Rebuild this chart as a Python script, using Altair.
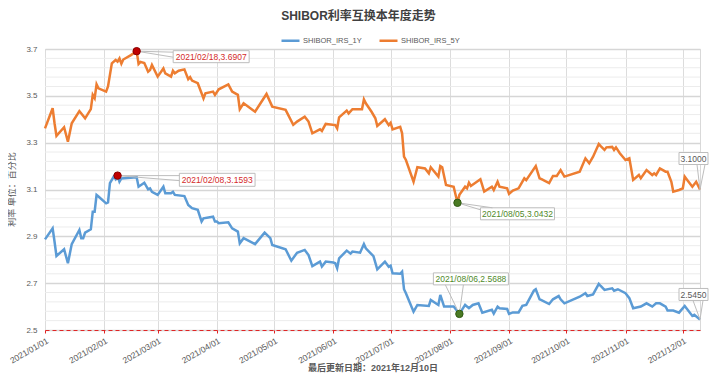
import altair as alt
import pandas as pd

FONT = "Liberation Sans, Noto Sans CJK SC, sans-serif"

# ---------------- data ----------------
dates_5y = [
    "2021-01-01", "2021-01-05", "2021-01-06", "2021-01-07", "2021-01-11", "2021-01-13", "2021-01-15",
    "2021-01-19", "2021-01-22", "2021-01-25", "2021-01-26", "2021-01-27", "2021-01-28", "2021-01-29",
    "2021-02-02", "2021-02-03", "2021-02-05", "2021-02-07", "2021-02-08", "2021-02-09", "2021-02-10",
    "2021-02-11", "2021-02-15", "2021-02-18", "2021-02-19", "2021-02-20", "2021-02-22", "2021-02-24",
    "2021-02-25", "2021-02-26", "2021-03-01", "2021-03-04", "2021-03-05", "2021-03-08", "2021-03-09",
    "2021-03-10", "2021-03-12", "2021-03-15", "2021-03-17", "2021-03-18", "2021-03-19", "2021-03-22",
    "2021-03-24", "2021-03-25", "2021-03-26", "2021-03-30", "2021-03-31", "2021-04-02", "2021-04-07",
    "2021-04-09", "2021-04-12", "2021-04-13", "2021-04-15", "2021-04-21", "2021-04-27", "2021-04-30",
    "2021-05-07", "2021-05-11", "2021-05-13", "2021-05-17", "2021-05-19", "2021-05-21", "2021-05-25",
    "2021-05-26", "2021-05-28", "2021-06-02", "2021-06-03", "2021-06-04", "2021-06-08", "2021-06-09",
    "2021-06-11", "2021-06-16", "2021-06-17", "2021-06-18", "2021-06-21", "2021-06-23", "2021-06-24",
    "2021-06-28", "2021-06-30", "2021-07-01", "2021-07-02", "2021-07-06", "2021-07-07", "2021-07-08",
    "2021-07-09", "2021-07-13", "2021-07-15", "2021-07-19", "2021-07-21", "2021-07-22", "2021-07-26",
    "2021-07-27", "2021-07-28", "2021-07-30", "2021-08-03", "2021-08-05", "2021-08-06", "2021-08-09",
    "2021-08-10", "2021-08-11", "2021-08-12", "2021-08-17", "2021-08-19", "2021-08-23", "2021-08-24",
    "2021-08-26", "2021-08-27", "2021-08-31", "2021-09-01", "2021-09-03", "2021-09-06", "2021-09-09",
    "2021-09-10", "2021-09-15", "2021-09-17", "2021-09-18", "2021-09-22", "2021-09-24", "2021-09-26",
    "2021-09-28", "2021-09-30", "2021-10-08", "2021-10-11", "2021-10-13", "2021-10-15", "2021-10-18",
    "2021-10-19", "2021-10-21", "2021-10-22", "2021-10-25", "2021-10-26", "2021-10-27", "2021-10-29",
    "2021-11-01", "2021-11-03", "2021-11-05", "2021-11-08", "2021-11-09", "2021-11-12", "2021-11-15",
    "2021-11-16", "2021-11-17", "2021-11-19", "2021-11-22", "2021-11-23", "2021-11-25", "2021-11-26",
    "2021-11-29", "2021-12-01", "2021-12-02", "2021-12-03", "2021-12-06", "2021-12-08", "2021-12-10",
]
rates_5y = [
    3.361, 3.447, 3.383, 3.329, 3.366, 3.304, 3.383,
    3.435, 3.404, 3.443, 3.504, 3.490, 3.549, 3.532,
    3.518, 3.540, 3.639, 3.653, 3.646, 3.660, 3.637,
    3.655, 3.674, 3.6907, 3.636, 3.645, 3.640, 3.603,
    3.610, 3.632, 3.582, 3.617, 3.596, 3.582, 3.607,
    3.596, 3.607, 3.613, 3.571, 3.580, 3.565, 3.554,
    3.511, 3.489, 3.511, 3.518, 3.504, 3.528, 3.549,
    3.518, 3.504, 3.443, 3.468, 3.432, 3.508, 3.454,
    3.440, 3.376, 3.390, 3.411, 3.390, 3.340, 3.357,
    3.350, 3.380, 3.375, 3.361, 3.408, 3.437, 3.425,
    3.443, 3.443, 3.485, 3.468, 3.432, 3.404, 3.371,
    3.400, 3.375, 3.385, 3.357, 3.368, 3.340, 3.240,
    3.226, 3.133, 3.195, 3.190, 3.169, 3.195, 3.155,
    3.200, 3.195, 3.119, 3.112, 3.0432, 3.077, 3.112,
    3.105, 3.129, 3.115, 3.144, 3.091, 3.112, 3.098,
    3.133, 3.112, 3.105, 3.081, 3.095, 3.105, 3.148,
    3.140, 3.200, 3.148, 3.144, 3.127, 3.158, 3.158,
    3.183, 3.155, 3.176, 3.233, 3.212, 3.240, 3.294,
    3.285, 3.269, 3.280, 3.282, 3.269, 3.280, 3.255,
    3.226, 3.233, 3.141, 3.162, 3.148, 3.183, 3.162,
    3.169, 3.162, 3.190, 3.176, 3.176, 3.133, 3.091,
    3.098, 3.105, 3.155, 3.144, 3.112, 3.133, 3.100,
]

dates_1y = [
    "2021-01-01", "2021-01-05", "2021-01-06", "2021-01-07", "2021-01-11", "2021-01-13", "2021-01-15",
    "2021-01-19", "2021-01-20", "2021-01-21", "2021-01-22", "2021-01-25", "2021-01-26", "2021-01-27",
    "2021-01-28", "2021-01-29", "2021-02-02", "2021-02-03", "2021-02-04", "2021-02-06", "2021-02-07",
    "2021-02-08", "2021-02-09", "2021-02-10", "2021-02-18", "2021-02-19", "2021-02-22", "2021-02-24",
    "2021-02-25", "2021-02-26", "2021-03-01", "2021-03-04", "2021-03-05", "2021-03-08", "2021-03-09",
    "2021-03-10", "2021-03-15", "2021-03-17", "2021-03-19", "2021-03-22", "2021-03-24", "2021-03-25",
    "2021-03-30", "2021-03-31", "2021-04-01", "2021-04-02", "2021-04-07", "2021-04-09", "2021-04-12",
    "2021-04-13", "2021-04-15", "2021-04-21", "2021-04-26", "2021-04-29", "2021-04-30", "2021-05-07",
    "2021-05-10", "2021-05-13", "2021-05-17", "2021-05-19", "2021-05-21", "2021-05-25", "2021-05-26",
    "2021-05-28", "2021-06-01", "2021-06-02", "2021-06-03", "2021-06-04", "2021-06-08", "2021-06-10",
    "2021-06-11", "2021-06-15", "2021-06-17", "2021-06-18", "2021-06-22", "2021-06-24", "2021-06-28",
    "2021-06-30", "2021-07-01", "2021-07-02", "2021-07-06", "2021-07-07", "2021-07-08", "2021-07-09",
    "2021-07-13", "2021-07-15", "2021-07-21", "2021-07-22", "2021-07-26", "2021-07-27", "2021-07-29",
    "2021-08-03", "2021-08-06", "2021-08-09", "2021-08-11", "2021-08-13", "2021-08-16", "2021-08-18",
    "2021-08-23", "2021-08-24", "2021-08-26", "2021-08-27", "2021-08-31", "2021-09-01", "2021-09-03",
    "2021-09-06", "2021-09-08", "2021-09-10", "2021-09-14", "2021-09-15", "2021-09-17", "2021-09-18",
    "2021-09-22", "2021-09-24", "2021-09-27", "2021-09-28", "2021-09-30", "2021-10-08", "2021-10-11",
    "2021-10-12", "2021-10-15", "2021-10-18", "2021-10-19", "2021-10-21", "2021-10-25", "2021-10-26",
    "2021-10-28", "2021-11-01", "2021-11-03", "2021-11-05", "2021-11-09", "2021-11-12", "2021-11-15",
    "2021-11-17", "2021-11-19", "2021-11-22", "2021-11-23", "2021-11-26", "2021-11-29", "2021-12-02",
    "2021-12-06", "2021-12-07", "2021-12-10",
]
rates_1y = [
    2.887, 2.934, 2.877, 2.816, 2.845, 2.785, 2.867,
    2.927, 2.892, 2.892, 2.916, 2.930, 3.005, 3.005,
    3.077, 3.070, 3.041, 3.045, 3.127, 3.155, 3.144,
    3.1593, 3.133, 3.147, 3.152, 3.112, 3.129, 3.101,
    3.105, 3.090, 3.077, 3.112, 3.084, 3.084, 3.090,
    3.077, 3.072, 3.034, 3.020, 3.013, 2.963, 2.977,
    2.984, 2.963, 2.963, 2.956, 2.960, 2.934, 2.920,
    2.870, 2.892, 2.867, 2.916, 2.892, 2.863, 2.845,
    2.796, 2.830, 2.842, 2.820, 2.773, 2.792, 2.771,
    2.792, 2.788, 2.785, 2.764, 2.806, 2.839, 2.826,
    2.835, 2.830, 2.867, 2.849, 2.815, 2.759, 2.792,
    2.770, 2.775, 2.742, 2.740, 2.749, 2.674, 2.657,
    2.578, 2.607, 2.603, 2.628, 2.607, 2.650, 2.600,
    2.600, 2.5688, 2.607, 2.593, 2.607, 2.614, 2.574,
    2.586, 2.570, 2.600, 2.593, 2.590, 2.569, 2.575,
    2.575, 2.603, 2.607, 2.668, 2.674, 2.631, 2.628,
    2.611, 2.631, 2.645, 2.631, 2.614, 2.642, 2.657,
    2.645, 2.652, 2.697, 2.688, 2.671, 2.678, 2.668,
    2.674, 2.657, 2.636, 2.593, 2.600, 2.614, 2.600,
    2.614, 2.614, 2.600, 2.583, 2.583, 2.574, 2.603,
    2.560, 2.565, 2.545,
]

series_names = ["SHIBOR_IRS_1Y", "SHIBOR_IRS_5Y"]
series_colors = ["#5B9BD5", "#ED7D31"]

y_ticks = [2.5, 2.7, 2.9, 3.1, 3.3, 3.5, 3.7]
minor_ticks = [2.54, 2.58, 2.62, 2.66, 2.74, 2.78, 2.82, 2.86, 2.94, 2.98, 3.02, 3.06,
               3.14, 3.18, 3.22, 3.26, 3.34, 3.38, 3.42, 3.46, 3.54, 3.58, 3.62, 3.66]

ann_dates = ["2021-02-18", "2021-02-08", "2021-08-05", "2021-08-06", "2021-12-10", "2021-12-10"]
ann_values = [3.6907, 3.1593, 3.0432, 2.5688, 3.1000, 2.5450]
ann_labels = ["2021/02/18,3.6907", "2021/02/08,3.1593", "2021/08/05,3.0432",
              "2021/08/06,2.5688", "3.1000", "2.5450"]

title_text = "SHIBOR利率互换本年度走势"
y_title_text = "利率 单位：百分比"
caption_text = "最后更新日期：2021年12月10日"

# ---------------- chart ----------------
df = pd.DataFrame({
    "date": dates_1y + dates_5y,
    "value": rates_1y + rates_5y,
    "series": [series_names[0]] * len(dates_1y) + [series_names[1]] * len(dates_5y),
})


def dt(m, d):
    return alt.DateTime(year=2021, month=m, date=d, utc=True)


RED = "#e02424"
LABEL = "#595959"

x_enc = alt.X(
    "date:T",
    scale=alt.Scale(type="utc", domain=[dt(1, 1), dt(12, 10)]),
    axis=alt.Axis(
        values=[dt(m, 1) for m in range(1, 13)],
        labelExpr="utcFormat(datum.value, '%Y/%m/%d')",
        labelAngle=330, labelAlign="right", labelBaseline="top", labelFontSize=8.5,
        labelColor=LABEL, labelPadding=3, labelOverlap=False, labelFlush=False,
        domainColor=RED, domainDash=[4, 3], domainWidth=1,
        tickColor=RED, tickSize=3, gridColor="#dcdcdc", gridWidth=1, title=None,
    ),
)
y_enc = alt.Y(
    "value:Q",
    scale=alt.Scale(domain=[2.5, 3.7], nice=False, zero=False),
    axis=alt.Axis(
        values=y_ticks, format=".1f", labelFontSize=8, labelColor=LABEL, labelPadding=8,
        ticks=False, domain=False, gridColor="#d6d6d6", gridWidth=1.5, title=None,
    ),
)

minor = alt.Chart(pd.DataFrame({"value": minor_ticks})).mark_rule(
    color="#ececec", strokeWidth=1
).encode(y=y_enc)

lines = alt.Chart(df).mark_line(strokeWidth=2.5).encode(
    x=x_enc, y=y_enc,
    color=alt.Color(
        "series:N",
        scale=alt.Scale(domain=series_names, range=series_colors),
        legend=alt.Legend(
            orient="none", legendX=235, legendY=-19, direction="horizontal", title=None,
            symbolType="stroke", symbolSize=324, symbolStrokeWidth=2.5,
            labelFontSize=7.5, labelColor=LABEL, labelOffset=2, columnPadding=12, padding=0,
        ),
    ),
)

U = 100.0


def annotation(i, box, leaders, tx, ty, tcolor, dot_fill=None, dot_stroke=None):
    d = pd.DataFrame({"date": [ann_dates[i]], "value": [ann_values[i]], "label": [ann_labels[i]]})
    x0, x1, y0, y1 = box
    path = (f"M{x0/U:.4f},{y0/U:.4f}L{x1/U:.4f},{y0/U:.4f}"
            f"L{x1/U:.4f},{y1/U:.4f}L{x0/U:.4f},{y1/U:.4f}Z")
    for lx, ly in leaders:
        path += f"M0,0L{lx/U:.4f},{ly/U:.4f}"
    base = alt.Chart(d)
    out = [
        base.mark_point(shape=path, size=(2 * U) ** 2, filled=True, fill="white",
                        stroke="#bdbdbd", strokeWidth=1, opacity=1).encode(x=x_enc, y=y_enc),
        base.mark_text(dx=tx, dy=ty, fontSize=8.5, color=tcolor, font=FONT).encode(
            x=x_enc, y=y_enc, text="label:N"),
    ]
    if dot_fill:
        out.append(base.mark_point(filled=True, size=55, fill=dot_fill, stroke=dot_stroke,
                                   strokeWidth=1, opacity=1).encode(x=x_enc, y=y_enc))
    return out


ann = []
ann += annotation(0, (36.5, 112.5, -0.5, 11.5), [(36.5, 1), (36.5, 6)], 74.5, 5.5,
                  "#d42a2a", "#c00000", "#8a0000")
ann += annotation(1, (61.8, 137.5, -2.3, 10.7), [(61.8, 0), (61.8, 5)], 99.6, 4.2,
                  "#d42a2a", "#c00000", "#8a0000")
ann += annotation(2, (23, 97, 5, 17), [(23, 7), (35, 5)], 60, 11.2,
                  "#4f8a2a", "#4a7a23", "#2f5a12")
ann += annotation(3, (-26, 49, -41, -29), [(-14, -29), (4, -29)], 11.5, -34.8,
                  "#4f8a2a", "#4a7a23", "#2f5a12")
ann += annotation(4, (-21, 8, -37, -25), [(-3, -25), (5, -25)], -6.5, -30.8, LABEL)
ann += annotation(5, (-21, 8, -31, -19), [(-7, -19), (3, -19)], -6.5, -24.8, LABEL)

title = alt.Chart(pd.DataFrame({"t": [title_text]})).mark_text(
    fontSize=12, fontWeight="bold", color="#404040", font=FONT
).encode(x=alt.value(313.5), y=alt.value(-33), text="t:N")

ytitle = alt.Chart(pd.DataFrame({"t": [y_title_text]})).mark_text(
    fontSize=9, color=LABEL, font=FONT, angle=270
).encode(x=alt.value(-33), y=alt.value(140.5), text="t:N")

caption = alt.Chart(pd.DataFrame({"t": [caption_text]})).mark_text(
    fontSize=9, fontWeight="bold", color=LABEL, font=FONT
).encode(x=alt.value(328), y=alt.value(319), text="t:N")

chart = alt.layer(minor, lines, *ann, title, ytitle, caption).properties(
    width=655, height=281,
    autosize=alt.AutoSizeParams(type="none"),
    padding={"left": 37, "top": 41, "right": 9, "bottom": 44},
    background="white",
).configure_view(stroke="#d9d9d9", strokeWidth=1).configure_axis(
    labelFont=FONT
).configure_legend(labelFont=FONT)

chart.save("out.html", embed_options={"renderer": "svg", "actions": False})
